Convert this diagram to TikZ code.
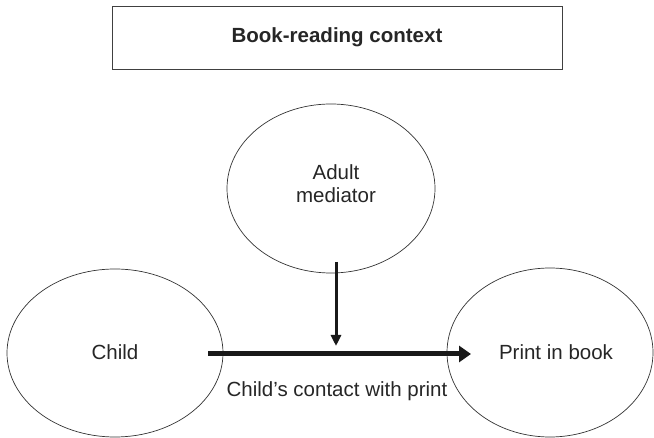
\documentclass[tikz,border=0pt]{standalone}
\usepackage{fontspec}
\setmainfont{Liberation Sans}
\usetikzlibrary{arrows.meta}
\begin{document}
\begin{tikzpicture}[x=1pt,y=-1pt,
  txt/.style={font=\fontsize{20.5}{23}\selectfont, text=black!85},
  oval/.style={draw=black!80, line width=0.7pt},
  link/.style={draw=black!90, line width=#1}]
\useasboundingbox (0,0) rectangle (654,438);
% title frame
\node[draw=black!75, line width=0.9pt, minimum width=450pt, minimum height=63pt,
      font=\fontsize{20.5}{23}\selectfont\bfseries, text=black!85] (ctx) at (337,37.5) {Book-reading context};
% participants
\draw[oval] (331,188.5) ellipse [x radius=104, y radius=84.5];
\node[txt, align=center] (adult) at (336,183.5) {Adult\\mediator};
\draw[oval] (115,353) ellipse [x radius=108, y radius=84];
\node[txt] (child) at (115,352) {Child};
\draw[oval] (550,352.5) ellipse [x radius=103, y radius=84.5];
\node[txt] (print) at (556,352) {Print in book};
% connectors
\coordinate (hs) at (208,354);
\coordinate (he) at (471,354);
\coordinate (vs) at (336,262);
\coordinate (ve) at (336,346);
\draw[link=5pt, -{Triangle[length=12pt, width=16pt]}] (hs) -- (he);
\draw[link=3pt, -{Triangle[length=11pt, width=10pt]}] (vs) -- (ve);
\node[txt] (lbl) at (337,391) {Child’s contact with print};
\end{tikzpicture}
\end{document}
